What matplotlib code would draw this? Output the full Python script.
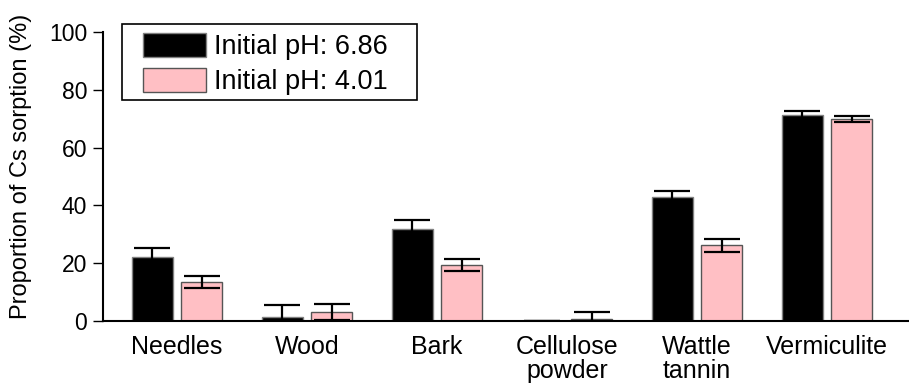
import numpy as np
import matplotlib.pyplot as plt
from matplotlib.patches import Rectangle

plt.rcParams['font.family'] = ['Liberation Sans', 'DejaVu Sans']

# Data
categories = ['Needles', 'Wood', 'Bark', 'Cellulose\npowder', 'Wattle\ntannin', 'Vermiculite']
ph686 = [22.1, 1.5, 32.0, 0.0, 42.8, 71.3]
ph686_err = [3.2, 4.0, 3.0, 0.0, 2.3, 1.4]
ph401 = [13.5, 3.2, 19.4, 0.6, 26.2, 69.9]
ph401_err = [2.2, 2.8, 2.2, 2.6, 2.2, 1.1]

x = np.arange(len(categories))
width = 0.315
offset = 0.19

fig = plt.figure(figsize=(9.09, 3.87), dpi=100)
ax = fig.add_axes([0.1128, 0.1705, 0.8872, 0.747])

err_kw = dict(ecolor='black', elinewidth=1.6, capsize=13, capthick=1.6)
ax.bar(x - offset, ph686, width, yerr=ph686_err, color='black', edgecolor='#808080',
       linewidth=1, label='Initial pH: 6.86', error_kw=err_kw)
ax.bar(x + offset, ph401, width, yerr=ph401_err, color='#FFBFC4', edgecolor='#555555',
       linewidth=1, label='Initial pH: 4.01', error_kw=err_kw)

ax.set_xlim(-0.573, 5.63)
ax.set_ylim(0, 100)
ax.set_yticks([0, 20, 40, 60, 80, 100])
ax.set_xticks(x)
ax.set_xticklabels(categories, fontsize=18, linespacing=1.0)
ax.tick_params(axis='x', length=0, pad=10)
ax.tick_params(axis='y', labelsize=16.5, length=7, width=1, direction='out', pad=4)
ax.set_ylabel('Proportion of Cs sorption (%)', fontsize=17)
ax.yaxis.set_label_coords(-0.088, 0.535)

for side in ['top', 'right']:
    ax.spines[side].set_visible(False)
ax.spines['left'].set_linewidth(1.5)
ax.spines['bottom'].set_linewidth(1.5)

# legend without its own frame, plus a plain box around it
leg = ax.legend(loc='upper left', bbox_to_anchor=(0.0502, 0.998), fontsize=19.5,
                frameon=False, handlelength=2.33, handleheight=1.0,
                handletextpad=0.3, borderpad=0, borderaxespad=0, labelspacing=0.3)
box = Rectangle((0.0242, 0.765), 0.366, 0.263, transform=ax.transAxes, fill=False,
                edgecolor='black', linewidth=1.2, clip_on=False)
ax.add_patch(box)

fig.savefig('out.png', dpi=100)
